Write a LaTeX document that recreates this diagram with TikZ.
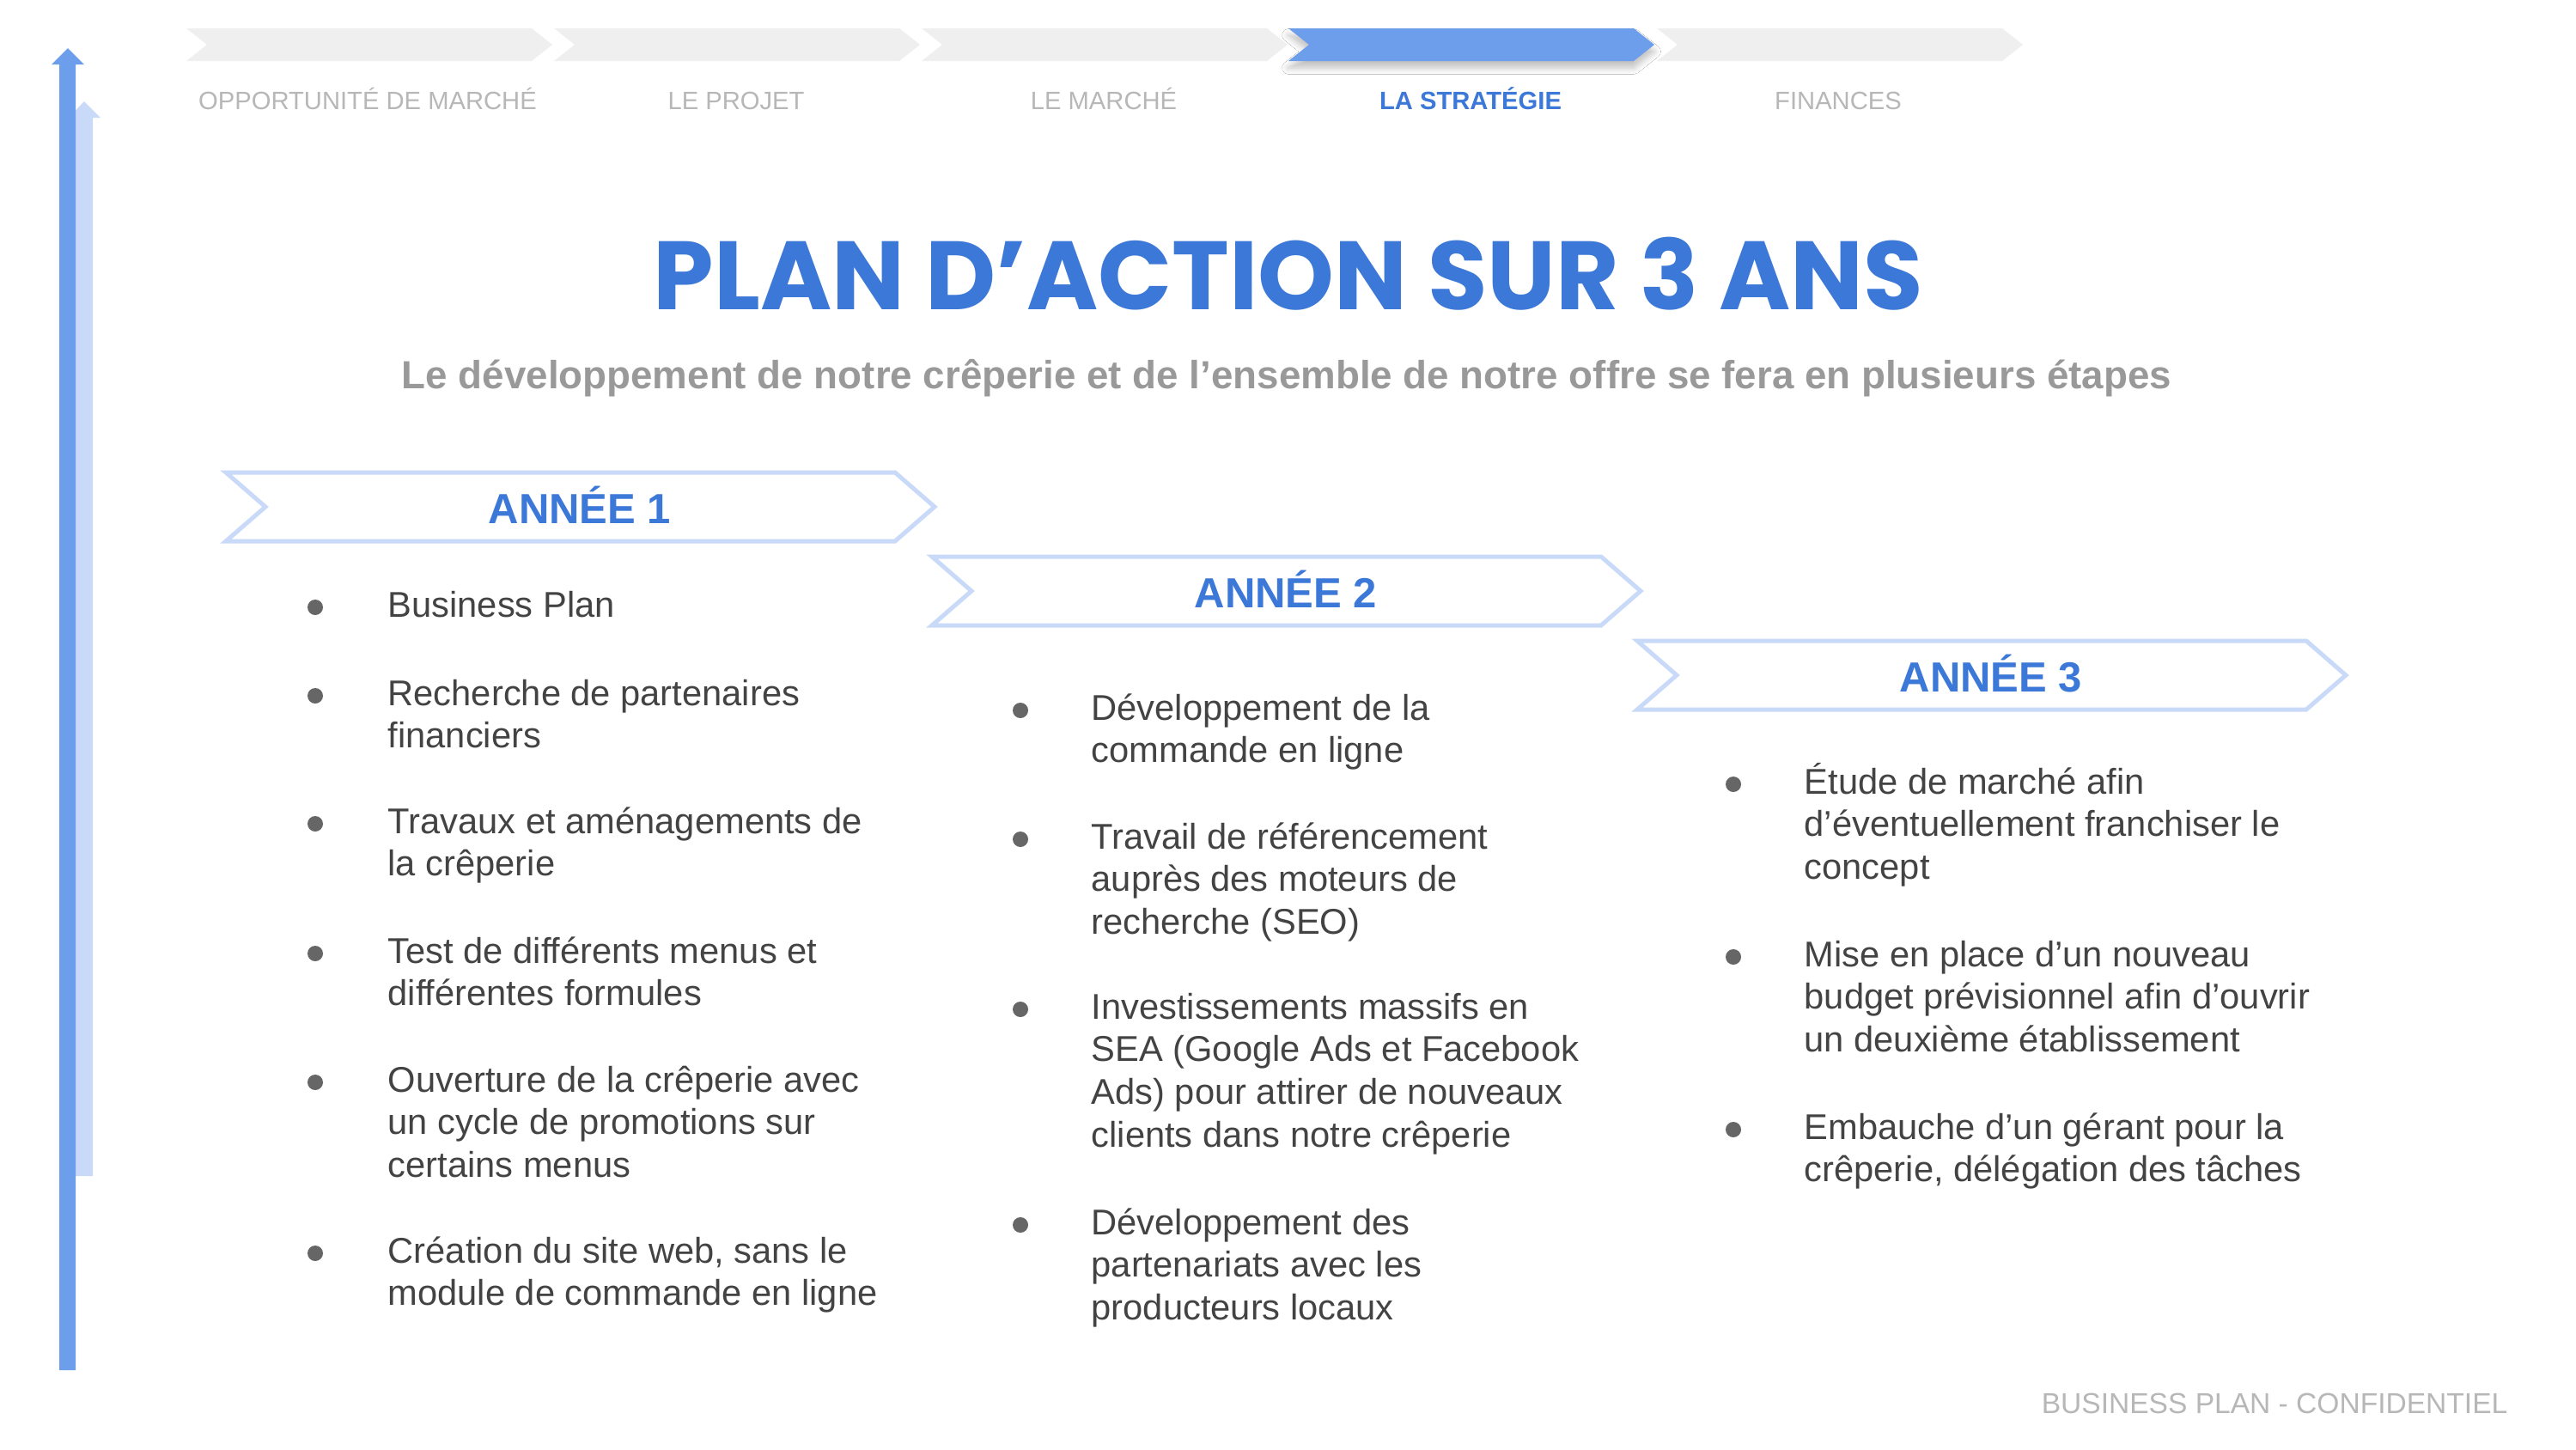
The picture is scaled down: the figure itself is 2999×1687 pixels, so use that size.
\documentclass[tikz,border=0pt]{standalone}
\usepackage{fontspec}
\setmainfont{Liberation Sans}
\newfontfamily\titlefont{Poppins}
\usetikzlibrary{shadows.blur}
\definecolor{tblue}{HTML}{3C78D8}
\definecolor{mblue}{HTML}{6D9EEB}
\definecolor{lblue}{HTML}{C9DAF8}
\definecolor{lgray}{HTML}{EFEFEF}
\definecolor{labgray}{HTML}{B7B7B7}
\definecolor{subgray}{HTML}{999999}
\definecolor{txtgray}{HTML}{434343}
\definecolor{dotgray}{HTML}{666666}
\newcommand\chevpath[5]{(#1,#2) -- ({#1+#3-#5},#2) -- ({#1+#3},{#2+#4/2}) -- ({#1+#3-#5},{#2+#4}) -- (#1,{#2+#4}) -- ({#1+#5},{#2+#4/2}) -- cycle}
\newcommand\itemtext[1]{\parbox[t]{9cm}{\fontsize{11.85}{14.2}\selectfont\raggedright #1}}
\tikzset{
  toplab/.style={anchor=base, inner sep=0, text=labgray, font=\fontsize{8.3}{9}\selectfont},
  yearlab/.style={anchor=base, inner sep=0, text=tblue, font=\fontsize{13.94}{16}\selectfont\bfseries},
  yearchev/.style={draw=lblue, line width=0.05cm, fill=white},
  itm/.style={anchor=base west, inner sep=0, text=txtgray},
  dot/.style={fill=dotgray, draw=none}
}
\begin{document}
\begin{tikzpicture}[x=0.01cm, y=-0.01cm]
\useasboundingbox[fill=white] (0,0) rectangle (2999,1687);
% left arrows
\fill[lblue] (88,1369) -- (88,137) -- (80,137) -- (98,118) -- (117,137) -- (108,137) -- (108,1369) -- cycle;
\fill[mblue] (69,1595) -- (69,75) -- (60,75) -- (79,56) -- (98,75) -- (88,75) -- (88,1595) -- cycle;
% top chevrons
\foreach \i in {0,1,2,4} {
  \fill[lgray] \chevpath{217+428*\i}{33}{426}{38}{24};
}
\fill[mblue, blur shadow={shadow blur steps=6, shadow xshift=0cm, shadow yshift=-0.08cm, shadow opacity=25}] \chevpath{1500}{33}{426}{38}{24};
\node[toplab] (t1) at (428,127) {OPPORTUNITÉ DE MARCHÉ};
\node[toplab] (t2) at (857,127) {LE PROJET};
\node[toplab] (t3) at (1285,127) {LE MARCHÉ};
\node[toplab, text=tblue, font=\fontsize{8.3}{9}\selectfont\bfseries] (t4) at (1712,127) {LA STRATÉGIE};
\node[toplab] (t5) at (2140,127) {FINANCES};
% title
\node[anchor=base, inner sep=0, text=tblue] (title) at (1500,360) {\resizebox{14.77cm}{!}{\titlefont\bfseries PLAN D’ACTION SUR 3 ANS}};
\node[anchor=base, inner sep=0, text=subgray] (sub) at (1498,452) {\resizebox{20.59cm}{!}{\bfseries Le développement de notre crêperie et de l’ensemble de notre offre se fera en plusieurs étapes}};
% year chevrons
\draw[yearchev] \chevpath{263}{550}{825}{80}{46};
\draw[yearchev] \chevpath{1085}{648}{825}{80}{46};
\draw[yearchev] \chevpath{1906}{746}{825}{80}{46};
\node[yearlab] (y1) at (675,609) {ANNÉE 1};
\node[yearlab] (y2) at (1497,707) {ANNÉE 2};
\node[yearlab] (y3) at (2318,805) {ANNÉE 3};
% column 1
\foreach \b in {718,821,970,1121,1271,1470} { \fill[dot] (367,\b-11) circle (9); }
\node[itm] (a1) at (451,718) {\itemtext{Business Plan}};
\node[itm] (a2) at (451,821) {\itemtext{Recherche de partenaires\\financiers}};
\node[itm] (a3) at (451,970) {\itemtext{Travaux et aménagements de\\la crêperie}};
\node[itm] (a4) at (451,1121) {\itemtext{Test de différents menus et\\différentes formules}};
\node[itm] (a5) at (451,1271) {\itemtext{Ouverture de la crêperie avec\\un cycle de promotions sur\\certains menus}};
\node[itm] (a6) at (451,1470) {\itemtext{Création du site web, sans le\\module de commande en ligne}};
% column 2
\foreach \b in {838,988,1186,1437} { \fill[dot] (1188,\b-11) circle (9); }
\node[itm] (b1) at (1270,838) {\itemtext{Développement de la\\commande en ligne}};
\node[itm] (b2) at (1270,988) {\itemtext{Travail de référencement\\auprès des moteurs de\\recherche (SEO)}};
\node[itm] (b3) at (1270,1186) {\itemtext{Investissements massifs en\\SEA (Google Ads et Facebook\\Ads) pour attirer de nouveaux\\clients dans notre crêperie}};
\node[itm] (b4) at (1270,1437) {\itemtext{Développement des\\partenariats avec les\\producteurs locaux}};
% column 3
\foreach \b in {924,1125,1326} { \fill[dot] (2018,\b-11) circle (9); }
\node[itm] (c1) at (2100,924) {\itemtext{Étude de marché afin\\d’éventuellement franchiser le\\concept}};
\node[itm] (c2) at (2100,1125) {\itemtext{Mise en place d’un nouveau\\budget prévisionnel afin d’ouvrir\\un deuxième établissement}};
\node[itm] (c3) at (2100,1326) {\itemtext{Embauche d’un gérant pour la\\crêperie, délégation des tâches}};
% footer
\node[anchor=base east, inner sep=0, text=labgray, font=\fontsize{9.54}{11}\selectfont] (foot) at (2920,1645) {BUSINESS PLAN - CONFIDENTIEL};
\end{tikzpicture}
\end{document}
